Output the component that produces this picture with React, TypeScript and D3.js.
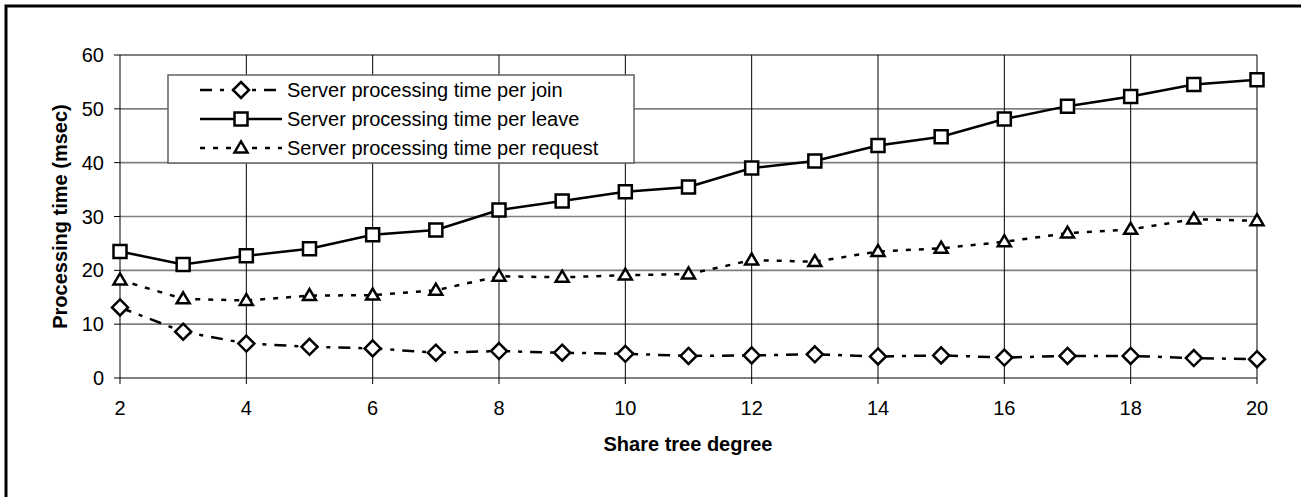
import * as d3 from 'd3';

// share tree degree (x)
const degrees = [2, 3, 4, 5, 6, 7, 8, 9, 10, 11, 12, 13, 14, 15, 16, 17, 18, 19, 20];
// processing time in msec
const joinTimes = [13.1, 8.6, 6.4, 5.8, 5.5, 4.7, 5.0, 4.7, 4.5, 4.1, 4.2, 4.4, 4.0, 4.2, 3.8, 4.1, 4.1, 3.7, 3.5];
const leaveTimes = [23.5, 21.1, 22.7, 24.0, 26.6, 27.5, 31.2, 32.9, 34.6, 35.5, 39.0, 40.3, 43.2, 44.8, 48.1, 50.5, 52.3, 54.5, 55.4];
const requestTimes = [18.2, 14.7, 14.4, 15.3, 15.4, 16.3, 18.9, 18.7, 19.1, 19.3, 21.9, 21.6, 23.5, 24.1, 25.3, 26.9, 27.6, 29.5, 29.2];
const xTicks = [2, 4, 6, 8, 10, 12, 14, 16, 18, 20];
const yTicks = [0, 10, 20, 30, 40, 50, 60];

const seriesNames = [
  'Server processing time per join',
  'Server processing time per leave',
  'Server processing time per request',
];

const W = 1301;
const H = 497;
const FONT = 'Arial, "Liberation Sans", sans-serif';

const x = d3.scaleLinear().domain([2, 20]).range([120, 1257]);
const y = d3.scaleLinear().domain([0, 60]).range([378, 55]);

type Shape = 'diamond' | 'square' | 'triangle';

const markerPath = (shape: Shape, cx: number, cy: number) => {
  if (shape === 'diamond') {
    const r = 8;
    return `M${cx},${cy - r}L${cx + r},${cy}L${cx},${cy + r}L${cx - r},${cy}Z`;
  }
  if (shape === 'square') {
    const r = 6.5;
    return `M${cx - r},${cy - r}H${cx + r}V${cy + r}H${cx - r}Z`;
  }
  const h = 11;
  const w = 6.5;
  return `M${cx},${cy - h * 0.6}L${cx + w},${cy + h * 0.4}L${cx - w},${cy + h * 0.4}Z`;
};

const series = [
  { name: seriesNames[0], values: joinTimes, shape: 'diamond' as Shape, dash: '12,8,4,8' },
  { name: seriesNames[1], values: leaveTimes, shape: 'square' as Shape, dash: 'none' },
  { name: seriesNames[2], values: requestTimes, shape: 'triangle' as Shape, dash: '5,8' },
];

const line = d3.line<[number, number]>()
  .x(d => x(d[0]))
  .y(d => y(d[1]));

const App = () => {
  const legendRows = [90, 119, 148];

  return (
    <svg
      width={W}
      height={H}
      style={{ position: 'absolute', left: 0, top: 0, background: '#fff' }}
      fontFamily={FONT}
    >
      <rect x={0} y={0} width={W} height={H} fill="#fff" />
      {/* outer frame */}
      <rect x={6} y={6} width={1300} height={500} fill="none" stroke="#000" strokeWidth={3} />

      {/* horizontal grid */}
      {yTicks.map(t => (
        <line
          key={'h' + t}
          x1={x(2)}
          x2={x(20)}
          y1={y(t)}
          y2={y(t)}
          stroke={t === 0 || t === 60 ? '#000' : '#808080'}
          strokeWidth={t === 0 || t === 60 ? 1.2 : 1.6}
        />
      ))}
      {/* vertical grid */}
      {xTicks.map(t => (
        <line key={'v' + t} x1={x(t)} x2={x(t)} y1={y(60)} y2={y(0) + 6} stroke="#000" strokeWidth={1} />
      ))}
      {/* y ticks */}
      {yTicks.map(t => (
        <g key={'yt' + t}>
          <line x1={x(2) - 6} x2={x(2)} y1={y(t)} y2={y(t)} stroke="#000" strokeWidth={1} />
          <text x={104} y={y(t)} dy="0.35em" textAnchor="end" fontSize={20} fill="#000">
            {t}
          </text>
        </g>
      ))}
      {/* x tick labels */}
      {xTicks.map(t => (
        <text key={'xt' + t} x={x(t)} y={408} dy="0.35em" textAnchor="middle" fontSize={20} fill="#000">
          {t}
        </text>
      ))}

      {/* axis titles */}
      <text x={688} y={444} dy="0.35em" textAnchor="middle" fontSize={20} fontWeight="bold" fill="#000">
        Share tree degree
      </text>
      <text
        transform={`translate(60,${(y(0) + y(60)) / 2}) rotate(-90)`}
        dy="0.35em"
        textAnchor="middle"
        fontSize={20}
        fontWeight="bold"
        fill="#000"
      >
        Processing time (msec)
      </text>

      {/* series */}
      {series.map(s => {
        const pts = degrees.map((d, i) => [d, s.values[i]] as [number, number]);
        return (
          <g key={s.name}>
            <path
              d={line(pts) || ''}
              fill="none"
              stroke="#000"
              strokeWidth={2.5}
              strokeDasharray={s.dash}
            />
            {pts.map(p => (
              <path
                key={p[0]}
                d={markerPath(s.shape, x(p[0]), y(p[1]))}
                fill="#fff"
                stroke="#000"
                strokeWidth={2.5}
                strokeLinejoin="miter"
              />
            ))}
          </g>
        );
      })}

      {/* legend */}
      <rect x={168} y={75} width={466} height={88} fill="#fff" stroke="#606060" strokeWidth={1.5} />
      {series.map((s, i) => (
        <g key={'lg' + i}>
          <line
            x1={200}
            x2={282}
            y1={legendRows[i]}
            y2={legendRows[i]}
            stroke="#000"
            strokeWidth={2.5}
            strokeDasharray={s.dash}
          />
          <path
            d={markerPath(s.shape, 241, legendRows[i])}
            fill="#fff"
            stroke="#000"
            strokeWidth={2.5}
          />
          <text x={287} y={legendRows[i]} dy="0.35em" fontSize={20} fill="#000">
            {s.name}
          </text>
        </g>
      ))}
    </svg>
  );
};

export default App;
